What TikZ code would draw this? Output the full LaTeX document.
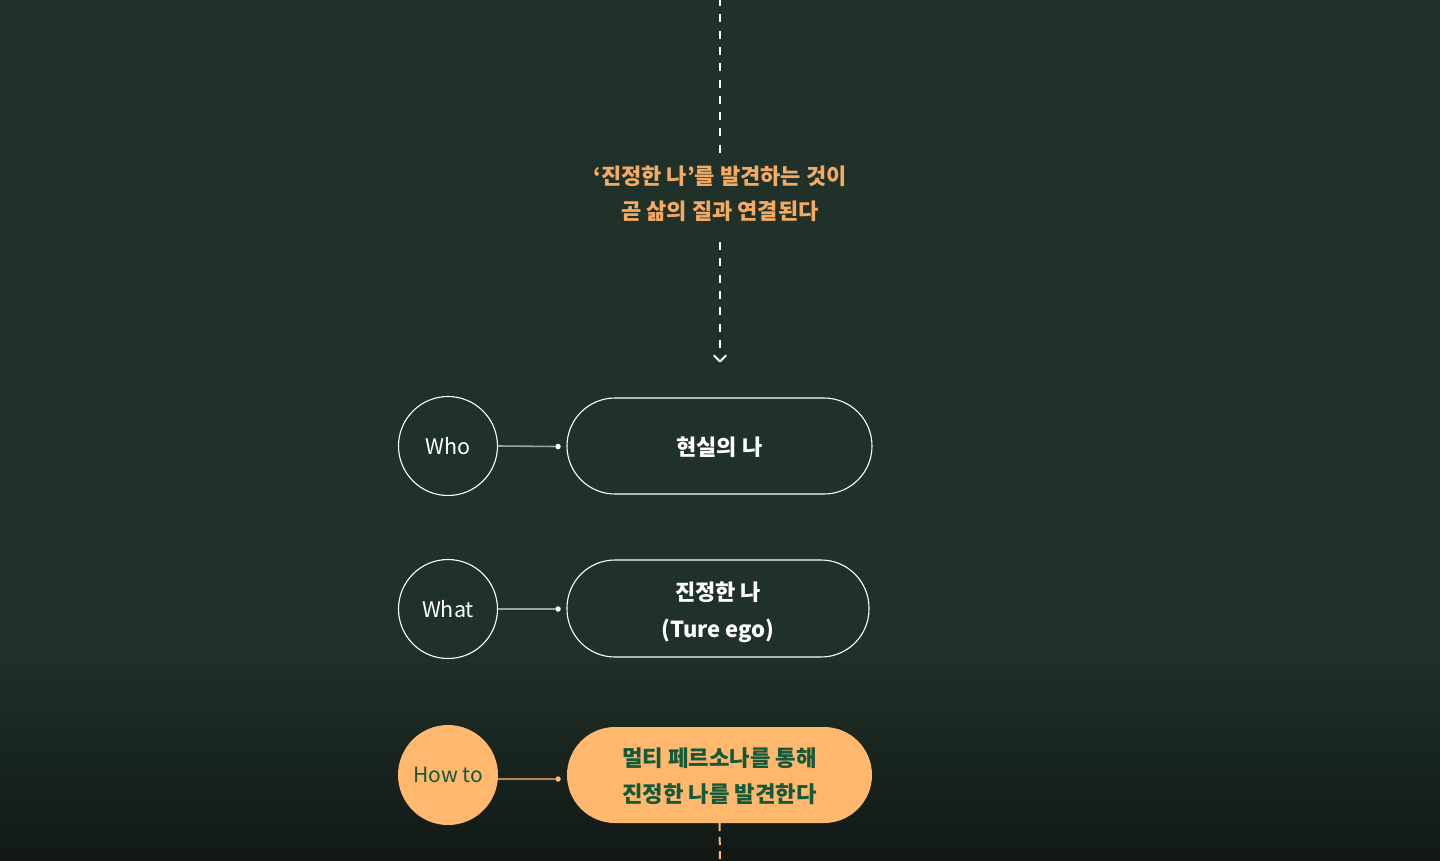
\documentclass[tikz,border=0pt]{standalone}
\usepackage{fontspec}
\setmainfont{Noto Sans CJK KR}
\usetikzlibrary{positioning}
\definecolor{bgtop}{HTML}{1F3129}
\definecolor{bgbot}{HTML}{121915}
\definecolor{accent}{HTML}{FFB86E}
\definecolor{headc}{HTML}{F4AA63}
\definecolor{deepgreen}{HTML}{15593B}
\definecolor{linkgrey}{HTML}{9AA39E}
\definecolor{linkorange}{HTML}{B8864F}
\newcommand{\lowered}[2]{\raisebox{#1}[\height][\depth]{\begin{tabular}{@{}c@{}}#2\end{tabular}}}
\begin{document}
\begin{tikzpicture}[x=1pt,y=-1pt,
  ring/.style={circle,draw=white,line width=1.1pt,minimum size=99pt,inner sep=0pt,text=white,font=\fontsize{21.5}{24}\selectfont},
  ringhot/.style={circle,fill=accent,minimum size=100pt,inner sep=0pt,text=deepgreen,font=\fontsize{21}{24}\selectfont},
  pill/.style={rectangle,rounded corners=48pt,draw=white,line width=1.1pt,minimum width=305pt,minimum height=96pt,inner sep=0pt,text=white,align=center,font=\fontsize{22}{37}\selectfont\bfseries},
  pillhot/.style={rectangle,rounded corners=48pt,fill=accent,minimum width=305pt,minimum height=96pt,inner sep=0pt,text=deepgreen,align=center,font=\fontsize{22.3}{36}\selectfont\bfseries},
  knob/.style={circle,fill=white,minimum size=5.5pt,inner sep=0pt},
  knobhot/.style={circle,fill=accent,minimum size=5.5pt,inner sep=0pt},
  link/.style={draw=linkgrey,line width=1.6pt},
  linkhot/.style={draw=linkorange,line width=1.6pt},
  dashline/.style={draw=white,line width=2pt,dash pattern=on 8pt off 8.3pt},
  dashhot/.style={draw=accent,line width=2pt,dash pattern=on 8pt off 6pt},
]
\useasboundingbox (0,0) rectangle (1440,860);
\fill[bgtop] (0,0) rectangle (1440,650);
\fill[top color=bgtop,bottom color=bgbot] (0,649) rectangle (1440,860);

% heading
\node[text=headc,align=center,font=\fontsize{22}{35}\selectfont\bfseries,inner sep=0pt] (head) at (720,193.5) {‘진정한 나’를 발견하는 것이\\곧 삶의 질과 연결된다};
\coordinate (top) at (720,-2);
\coordinate (headtop) at (720,153);
\coordinate (headbot) at (720,242);
\coordinate (tipend) at (720,350);
\coordinate (tip) at (720,361.5);
\draw[dashline] (top) -- (headtop);
\draw[dashline] (headbot) -- (tipend);
\draw[white,line width=2pt,line cap=round,line join=round] ([xshift=-6pt,yshift=6pt]tip) -- (tip) -- ([xshift=6pt,yshift=6pt]tip);

% rows
\node[ring] (who) at (448,446) {Who};
\node[pill] (p1) at (719.5,446) {\lowered{-2pt}{현실의 나}};
\node[knob] (k1) at (558,446.5) {};
\draw[link] (who.east) -- (k1);

\node[ring] (what) at (448,609) {What};
\node[pill,minimum width=302pt,minimum height=97pt] (p2) at (718,608.5) {\lowered{-3pt}{진정한 나\\(Ture ego)}};
\node[knob] (k2) at (558,609) {};
\draw[link] (what.east) -- (k2);

\node[ringhot] (how) at (448,775) {How to};
\node[pillhot] (p3) at (719.5,775) {\lowered{-2pt}{멀티 페르소나를 통해\\진정한 나를 발견한다}};
\node[knobhot] (k3) at (558,779) {};
\draw[linkhot] (how.east |- k3) -- (k3);

\coordinate (bottom) at (720,862);
\draw[dashhot] (p3.south) -- (bottom);
\end{tikzpicture}
\end{document}
